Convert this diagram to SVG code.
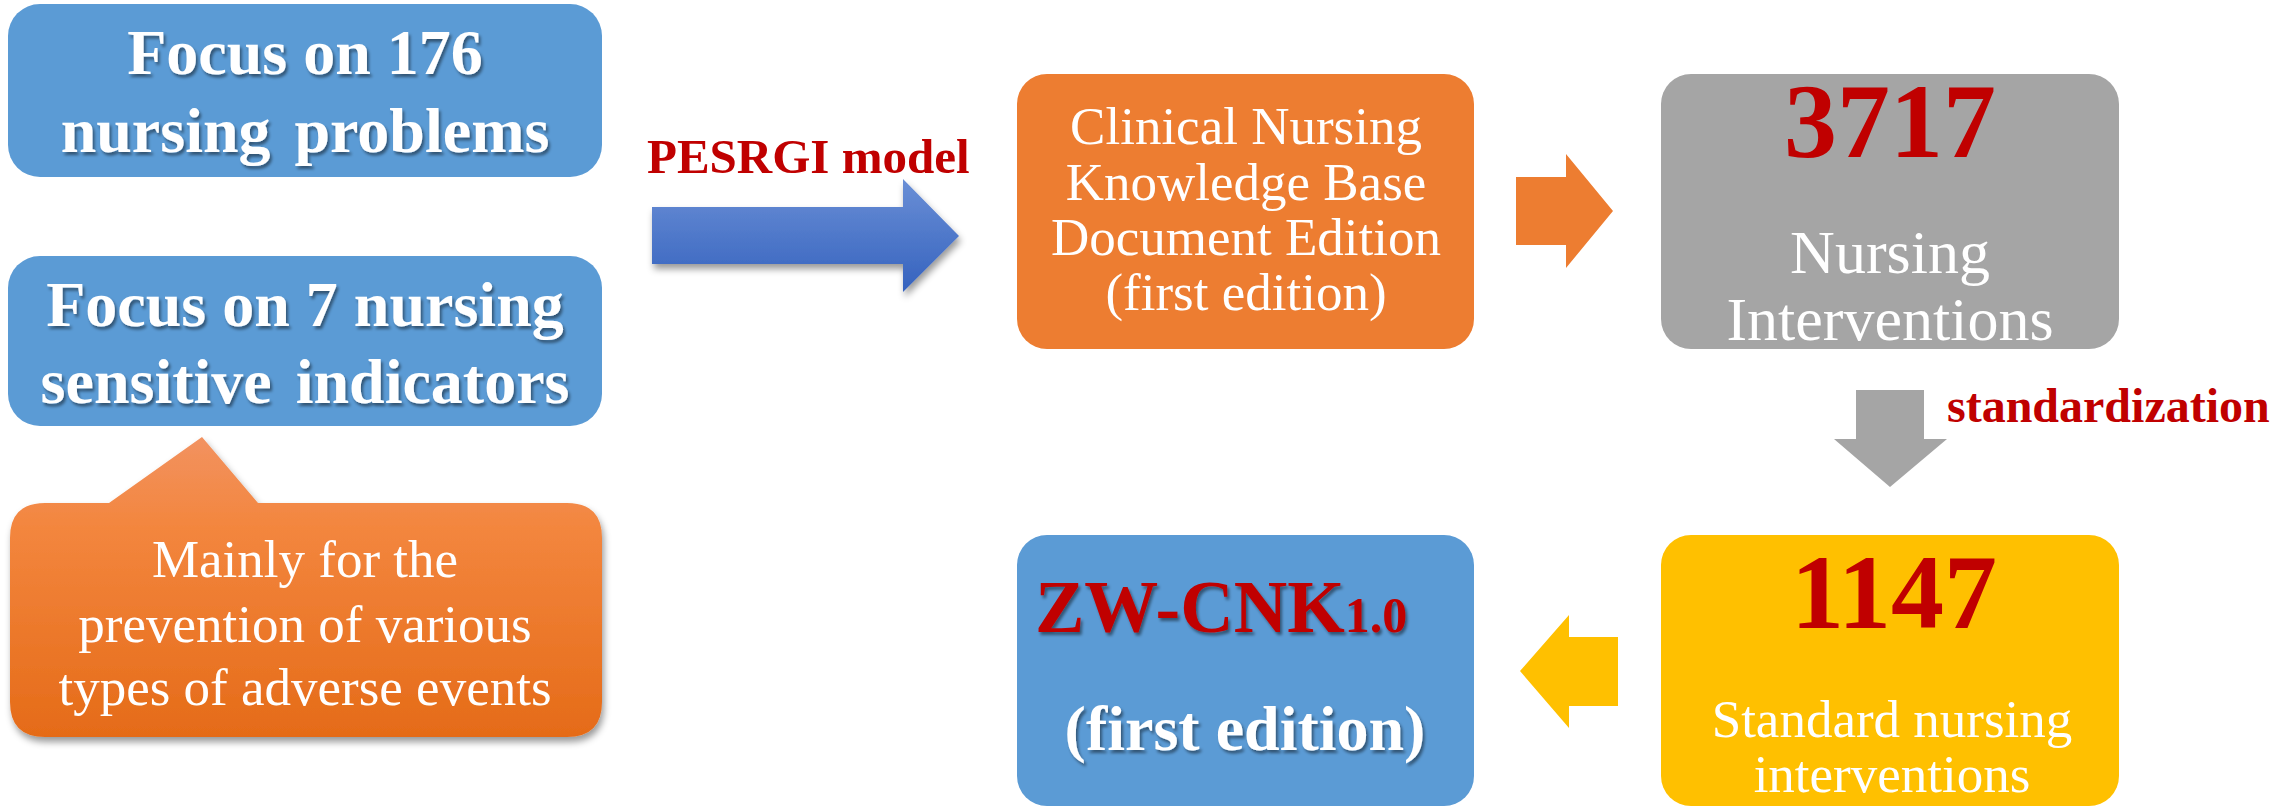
<svg xmlns="http://www.w3.org/2000/svg" width="2294" height="807" viewBox="0 0 2294 807">
<defs>
<style>
.serif{font-family:"Liberation Serif","Times New Roman",serif;}
.bold{font-weight:bold;}
.white{fill:#ffffff;}
.red{fill:#c00000;}
.mid{text-anchor:middle;}
.blue{fill:#5b9bd5;}
</style>
<linearGradient id="gArrow" x1="0" y1="179" x2="0" y2="292" gradientUnits="userSpaceOnUse">
<stop offset="0" stop-color="#6a8fd6"/>
<stop offset="1" stop-color="#3562be"/>
</linearGradient>
<linearGradient id="gCallout" x1="0" y1="437" x2="0" y2="737" gradientUnits="userSpaceOnUse">
<stop offset="0" stop-color="#f29260"/>
<stop offset="0.3" stop-color="#f3863e"/>
<stop offset="1" stop-color="#e56b18"/>
</linearGradient>
<filter id="txtShadow" x="-10%" y="-20%" width="120%" height="150%">
<feDropShadow dx="2" dy="3" stdDeviation="1.5" flood-color="#000" flood-opacity="0.45"/>
</filter>
<filter id="shapeShadow" x="-10%" y="-20%" width="125%" height="150%">
<feDropShadow dx="2" dy="5" stdDeviation="3.5" flood-color="#000" flood-opacity="0.4"/>
</filter>
</defs>
<rect width="2294" height="807" fill="#ffffff"/>

<g id="node-problems">
<rect x="8" y="4" width="594" height="173" rx="32" class="blue"/>
<g class="serif bold white mid" font-size="64" filter="url(#txtShadow)">
<text x="305" y="74">Focus on 176</text>
<text x="305" y="152" word-spacing="8">nursing problems</text>
</g>
</g>

<g id="node-indicators">
<rect x="8" y="256" width="594" height="170" rx="32" class="blue"/>
<g class="serif bold white mid" font-size="64" filter="url(#txtShadow)">
<text x="305" y="326">Focus on 7 nursing</text>
<text x="305" y="403" word-spacing="8">sensitive indicators</text>
</g>
</g>

<g id="node-callout">
<path d="M45,503 L109,503 L202,437 L258,503 L567,503 Q602,503 602,538 L602,702 Q602,737 567,737 L45,737 Q10,737 10,702 L10,538 Q10,503 45,503 Z" fill="url(#gCallout)" filter="url(#shapeShadow)"/>
<g class="serif white mid" font-size="53">
<text x="305" y="577">Mainly for the</text>
<text x="305" y="642">prevention of various</text>
<text x="305" y="705">types of adverse events</text>
</g>
</g>

<g id="node-kb">
<rect x="1017" y="74" width="457" height="275" rx="30" fill="#ed7d31"/>
<g class="serif white mid" font-size="53">
<text x="1246" y="144">Clinical Nursing</text>
<text x="1246" y="200">Knowledge Base</text>
<text x="1246" y="255">Document Edition</text>
<text x="1246" y="310">(first edition)</text>
</g>
</g>

<g id="node-3717">
<rect x="1661" y="74" width="458" height="275" rx="30" fill="#a5a5a5"/>
<text x="1890" y="157" class="serif bold red mid" font-size="106">3717</text>
<g class="serif white mid" font-size="62">
<text x="1890" y="273">Nursing</text>
<text x="1890" y="340">Interventions</text>
</g>
</g>

<g id="node-1147">
<rect x="1661" y="535" width="458" height="271" rx="30" fill="#ffc000"/>
<text x="1894" y="628" class="serif bold red mid" font-size="106">1147</text>
<g class="serif white mid" font-size="53">
<text x="1892" y="737">Standard nursing</text>
<text x="1892" y="792">interventions</text>
</g>
</g>

<g id="node-zwcnk">
<rect x="1017" y="535" width="457" height="271" rx="30" class="blue"/>
<text x="1035" y="632" class="serif bold red" font-size="74" filter="url(#txtShadow)">ZW-CNK<tspan font-size="50">1.0</tspan></text>
<text x="1245" y="750" class="serif bold white mid" font-size="64" filter="url(#txtShadow)">(first edition)</text>
</g>

<g id="connectors">
<path d="M652,207 L903,207 L903,179 L959,236 L903,292 L903,264 L652,264 Z" fill="url(#gArrow)" filter="url(#shapeShadow)"/>
<text x="647" y="173" class="serif bold red" font-size="49">PESRGI model</text>
<path d="M1516,177 L1566,177 L1566,154 L1613,211 L1566,268 L1566,245 L1516,245 Z" fill="#ed7d31"/>
<path d="M1856,390 L1924,390 L1924,439 L1947,439 L1890,487 L1834,439 L1856,439 Z" fill="#a5a5a5"/>
<text x="1947" y="422" class="serif bold red" font-size="48">standardization</text>
<path d="M1618,637 L1569,637 L1569,615 L1520,671 L1569,728 L1569,706 L1618,706 Z" fill="#ffc000"/>
</g>
</svg>
